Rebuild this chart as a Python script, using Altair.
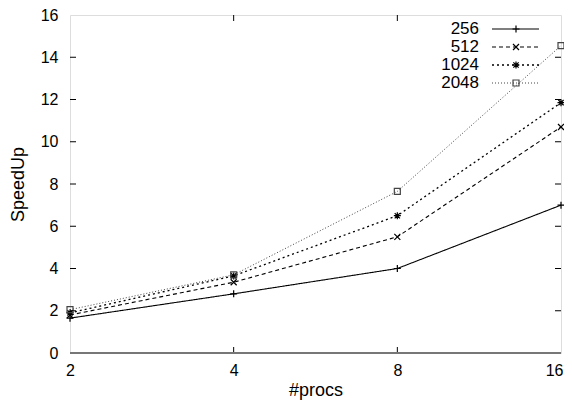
import altair as alt
import pandas as pd

procs = [2, 4, 8, 16]
series_names = ["256", "512", "1024", "2048"]
speedup_256 = [1.65, 2.8, 4.0, 7.0]
speedup_512 = [1.8, 3.35, 5.5, 10.7]
speedup_1024 = [1.9, 3.65, 6.5, 11.85]
speedup_2048 = [2.05, 3.7, 7.65, 14.55]
y_ticks = [0, 2, 4, 6, 8, 10, 12, 14, 16]

values = {"256": speedup_256, "512": speedup_512, "1024": speedup_1024, "2048": speedup_2048}

W, H = 491, 338
FONT = "Liberation Sans"

PLUS = "M-1,0L1,0M0,-1L0,1"
XSH = "M-1,-1L1,1M-1,1L1,-1"
STAR = "M-1,0L1,0M0,-1L0,1M-0.75,-0.75L0.75,0.75M-0.75,0.75L0.75,-0.75"

styles = {
    "256": dict(dash=[1, 0], color="#000000", shape=PLUS, size=49, width=1.1),
    "512": dict(dash=[4, 3], color="#000000", shape=XSH, size=36, width=1.1),
    "1024": dict(dash=[2, 3], color="#000000", shape=STAR, size=49, width=1.3),
    "2048": dict(dash=[1, 2], color="#444444", shape="square", size=36, width=1.0),
}

xscale = alt.Scale(type="log", base=2, domain=[2, 16], nice=False)
yscale = alt.Scale(domain=[0, 16], nice=False)

xaxis = alt.Axis(values=procs, format="d", title="#procs", grid=False,
                 tickSize=0, labelPadding=9, domain=False, titlePadding=3,
                 labelFlush=False,
                 labelAlign=alt.ExprRef(expr="datum.value == 16 ? 'right' : 'center'"),
                 labelOffset=alt.ExprRef(expr="datum.value == 16 ? 2 : 0"))
yaxis = alt.Axis(values=y_ticks, title="SpeedUp", grid=False,
                 tickSize=0, labelPadding=12, domain=False, titlePadding=13,
                 labelFlush=False)

layers = []
for name in series_names:
    st = styles[name]
    df = pd.DataFrame({"procs": procs, "speedup": values[name]})
    base = alt.Chart(df).encode(
        x=alt.X("procs:Q", scale=xscale, axis=xaxis),
        y=alt.Y("speedup:Q", scale=yscale, axis=yaxis))
    line = base.mark_line(color=st["color"], strokeDash=st["dash"], strokeWidth=st["width"])
    pts = base.mark_point(shape=st["shape"], size=st["size"], filled=False,
                          color=st["color"], strokeWidth=1.2, opacity=1)
    layers += [line, pts]

# inward ticks (left, right, top, bottom)
ytdf = pd.DataFrame({"speedup": y_ticks[1:-1]})
xtdf = pd.DataFrame({"procs": procs[1:-1]})
tick_len = 6
yt = alt.Y("speedup:Q", scale=yscale, axis=yaxis)
xt = alt.X("procs:Q", scale=xscale, axis=xaxis)
layers.append(alt.Chart(ytdf).mark_rule(color="#000", strokeWidth=1).encode(
    y=yt, x=alt.value(0), x2=alt.value(tick_len)))
layers.append(alt.Chart(ytdf).mark_rule(color="#000", strokeWidth=1).encode(
    y=yt, x=alt.value(W - tick_len), x2=alt.value(W)))
layers.append(alt.Chart(xtdf).mark_rule(color="#000", strokeWidth=1).encode(
    x=xt, y=alt.value(0), y2=alt.value(tick_len)))
layers.append(alt.Chart(xtdf).mark_rule(color="#000", strokeWidth=1).encode(
    x=xt, y=alt.value(H - tick_len), y2=alt.value(H)))
# bottom border drawn gray and a bit thicker
layers.append(alt.Chart(pd.DataFrame({"a": [0]})).mark_rule(color="#777777", strokeWidth=2).encode(
    x=alt.value(0), x2=alt.value(W), y=alt.value(H)))

# custom legend (label left, sample line with marker on right)
leg_y = [14, 32, 50, 68]
for i, name in enumerate(series_names):
    st = styles[name]
    ldf = pd.DataFrame({"name": [name]})
    lb = alt.Chart(ldf)
    layers.append(lb.mark_text(align="right", baseline="middle", fontSize=17, font=FONT, color="#000").encode(
        text="name:N", x=alt.value(409), y=alt.value(leg_y[i])))
    layers.append(lb.mark_rule(color=st["color"], strokeDash=st["dash"], strokeWidth=st["width"]).encode(
        x=alt.value(422), x2=alt.value(469), y=alt.value(leg_y[i])))
    layers.append(lb.mark_point(shape=st["shape"], size=st["size"], filled=False, color=st["color"],
                                strokeWidth=1.2, opacity=1).encode(
        x=alt.value(446), y=alt.value(leg_y[i])))

chart = alt.layer(*layers).properties(
    width=W, height=H,
    autosize=alt.AutoSizeParams(type="none"),
    padding={"left": 62, "top": 7, "right": 3, "bottom": 49},
).configure_view(stroke="#000", strokeWidth=1).configure(background="white").configure_axis(
    labelFont=FONT, titleFont=FONT, labelFontSize=16, titleFontSize=18,
    titleFontWeight="normal", labelColor="#000", titleColor="#000")

chart.save("out.html", embed_options={"renderer": "svg", "actions": False})
